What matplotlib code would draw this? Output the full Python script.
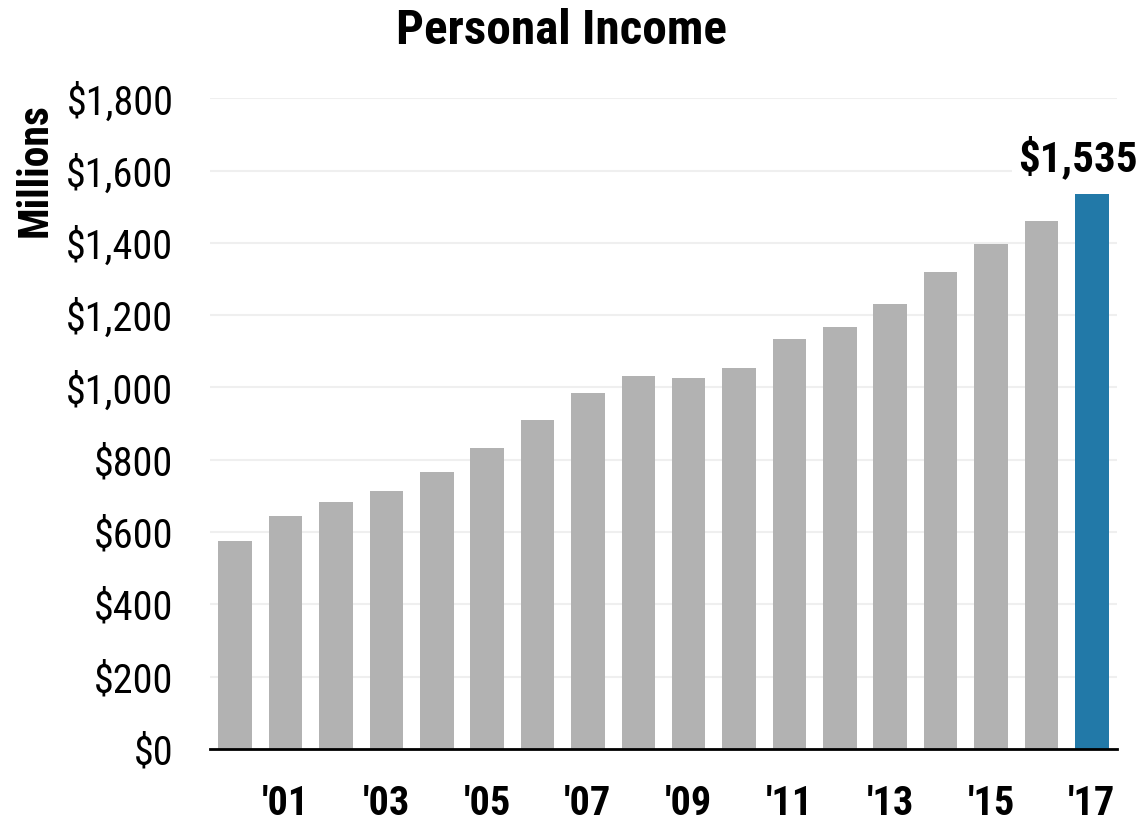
import matplotlib
matplotlib.use("Agg")
import matplotlib.pyplot as plt
from matplotlib.ticker import FuncFormatter

plt.rcParams['font.family'] = ['Roboto Condensed', 'DejaVu Sans']

# Personal income, millions of dollars
years = list(range(2000, 2018))
income = [575, 645, 682, 713, 766, 832, 909, 985, 1031, 1027,
          1054, 1134, 1168, 1231, 1319, 1397, 1459, 1535]
tick_years = [2001, 2003, 2005, 2007, 2009, 2011, 2013, 2015, 2017]
tick_labels = ["'01", "'03", "'05", "'07", "'09", "'11", "'13", "'15", "'17"]

fig = plt.figure(figsize=(11.45, 8.22), dpi=100)
ax = fig.add_axes([0.183, 0.089, 0.7925, 0.7915])

colors = ['#b2b2b2'] * (len(years) - 1) + ['#2279a8']
ax.bar(years, income, width=0.665, color=colors, zorder=2)

ax.set_xlim(years[0] - 0.51, years[-1] + 0.5)
ax.set_ylim(0, 1800)
ax.set_yticks(range(0, 1801, 200))
ax.yaxis.set_major_formatter(FuncFormatter(lambda v, p: f"${v:,.0f}"))
ax.set_xticks(tick_years)
ax.set_xticklabels(tick_labels, fontweight='bold', fontsize=29)
ax.tick_params(axis='y', labelsize=29, length=0, pad=26)
ax.tick_params(axis='x', length=0, pad=26)

ax.grid(axis='y', color='#efefef', linewidth=1.5, zorder=0)
for s in ['top', 'right', 'left']:
    ax.spines[s].set_visible(False)
ax.spines['bottom'].set_color('black')
ax.spines['bottom'].set_linewidth(2)
ax.spines['bottom'].set_zorder(3)

fig.text(0.031, 0.793, "Millions", rotation=90, ha='center', va='center',
         fontsize=30, fontweight='bold')

ax.annotate(f"${income[-1]:,}", xy=(years[-1], income[-1]), xytext=(-10, 10),
            textcoords='offset points', ha='center', va='bottom',
            fontsize=31, fontweight='bold',
            bbox=dict(boxstyle='square,pad=0.15', fc='white', ec='none'),
            zorder=4)

fig.suptitle("Personal Income", fontsize=35.5, fontweight='bold', x=0.49, y=0.99)

fig.savefig("out.png", dpi=100)
